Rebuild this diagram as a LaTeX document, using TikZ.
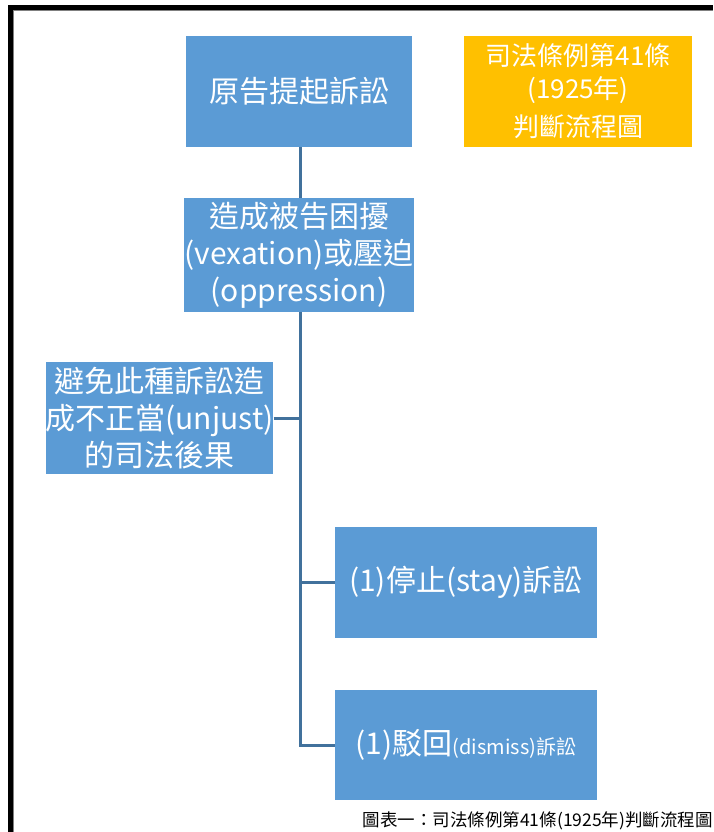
\documentclass[tikz,border=0pt]{standalone}
\usepackage{fontspec}
\setmainfont{Noto Sans CJK TC}
\definecolor{boxblue}{HTML}{5B9BD5}
\definecolor{lineblue}{HTML}{41719C}
\definecolor{boxorange}{HTML}{FFC000}
\begin{document}
\begin{tikzpicture}[x=1pt,y=-1pt,
  bluebox/.style={fill=boxblue, text=white, inner sep=0pt, align=center,
    font=\fontsize{30}{37}\selectfont},
  orangebox/.style={fill=boxorange, text=white, inner sep=0pt, align=center,
    font=\fontsize{26}{33}\selectfont},
  conn/.style={draw=lineblue, line width=3pt}]
\useasboundingbox (0,0) rectangle (713,832);
\fill[white] (0,0) rectangle (713,832);
% frame
\fill[black] (8,5) rectangle (13,832);
\fill[black] (8,5) rectangle (713,10);
\fill[gray] (13,10) rectangle (14,832);
\fill[gray] (13,10) rectangle (713,11);
% boxes
\node[bluebox, minimum width=226pt, minimum height=111pt] (b1) at (299,91.5) {原告提起訴訟};
\node[orangebox, minimum width=228pt, minimum height=111pt] (o1) at (578,91.5)
  {司法條例第41條\\(1925年)\\[5pt]判斷流程圖};
\node[bluebox, minimum width=226pt, minimum height=114pt] (b2) at (299,255)
  {造成被告困擾\\(vexation)或壓迫\\(oppression)};
\node[bluebox, minimum width=225pt, minimum height=112pt] (b3) at (159.5,418)
  {避免此種訴訟造\\成不正當(unjust)\\的司法後果};
\node[bluebox, minimum width=262pt, minimum height=111pt] (b4) at (466,582.5)
  {(1)停止(stay)訴訟};
\node[bluebox, minimum width=262pt, minimum height=110pt] (b5) at (466,745)
  {(1)駁回{\fontsize{20}{23}\selectfont(dismiss)訴訟}};
% connectors
\coordinate (top) at (300,312);
\coordinate (j3) at (300,418);
\coordinate (j4) at (300,582.5);
\coordinate (j5) at (300,745);
\draw[conn] (b1.south -| top) -- (b2.north -| top);
\draw[conn] (top) -- (j5) -- (b5.west);
\draw[conn] (b3.east) -- (j3);
\draw[conn] (j4) -- (b4.west);
% caption
\node[anchor=south east, inner sep=0pt, font=\fontsize{17.5}{20}\selectfont] (cap) at (713,830)
  {圖表一：司法條例第41條(1925年)判斷流程圖};
\end{tikzpicture}
\end{document}
